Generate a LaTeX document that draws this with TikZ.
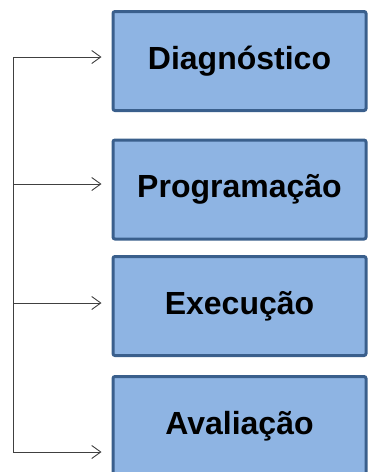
\documentclass[tikz,border=0pt]{standalone}
\usepackage{fontspec}
\setmainfont{Liberation Sans}
\usepackage{xcolor}
\usetikzlibrary{calc,arrows.meta}
\definecolor{boxfill}{HTML}{8EB4E3}
\definecolor{boxedge}{HTML}{3A5F8C}
\definecolor{wire}{HTML}{404040}

\begin{document}
\begin{tikzpicture}[x=1pt,y=-1pt,
  stage/.style={draw=boxedge,line width=3pt,fill=boxfill,rounded corners=2pt,
    minimum width=253pt,minimum height=99pt,inner sep=0pt,
    font=\fontsize{32}{36}\selectfont\bfseries},
  feed/.style={draw=wire,line width=0.9pt,-{Straight Barb[length=9pt,width=13pt,line width=0.9pt]},shorten >=10pt}]
\useasboundingbox (0,0) rectangle (368,472);
\node[stage] (diag) at (239.5,61) {Diagnóstico};
\node[stage] (prog) at (239.5,189.5) {Programação};
\node[stage] (exec) at (239.5,306) {Execução};
\node[stage] (aval) at (239.5,426) {Avaliação};
\coordinate (s1) at (13,57);
\coordinate (s2) at (13,184);
\coordinate (s3) at (13,303);
\coordinate (s4) at (13,452);
\draw[wire,line width=0.9pt] (s1)--(s4);
\draw[feed] (s1)--(s1 -| diag.west);
\draw[feed] (s2)--(s2 -| prog.west);
\draw[feed] (s3)--(s3 -| exec.west);
\draw[feed] (s4)--(s4 -| aval.west);
\end{tikzpicture}
\end{document}
